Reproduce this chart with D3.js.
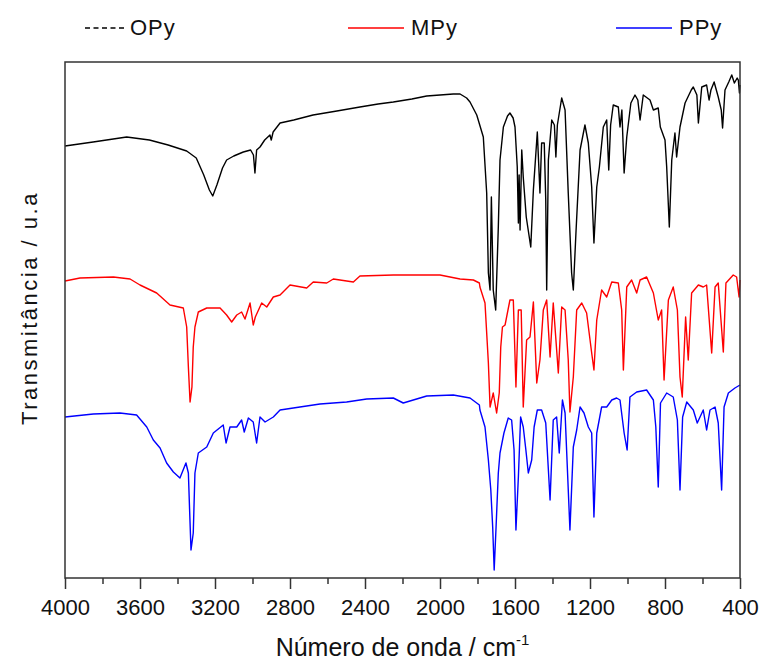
<!DOCTYPE html>
<html>
<head>
<meta charset="utf-8">
<script src="https://cdn.jsdelivr.net/npm/d3@7"></script>
<style>
  body { margin: 0; background: #fff; }
  text { font-family: "Liberation Sans", Arial, sans-serif; fill: #111; }
</style>
</head>
<body>
<div id="chart"></div>
<script>
// tick positions of the wavenumber axis (cm-1)
const majorTicks = [4000, 3600, 3200, 2800, 2400, 2000, 1600, 1200, 800, 400];
const minorTicks = [3800, 3400, 3000, 2600, 2200, 1800, 1400, 1000, 600];

const seriesNames = ['OPy', 'MPy', 'PPy'];
const seriesColors = ['#000000', '#ff0000', '#0000ff'];

// [wavenumber, transmittance (u.a., curves offset)]
const opy = [
  [4000, 432], [3850, 436], [3671, 441], [3550, 438], [3450, 433], [3351, 427], [3300, 420],
  [3260, 403], [3230, 388], [3212, 382], [3190, 393], [3160, 410], [3138, 418], [3100, 422],
  [3049, 426], [3010, 428], [2995, 423], [2987, 405], [2978, 428], [2960, 431], [2935, 438],
  [2907, 443], [2900, 438], [2890, 446], [2853, 455], [2780, 458], [2677, 463], [2550, 467],
  [2427, 471], [2330, 474], [2249, 476], [2150, 479], [2071, 482], [2000, 483], [1929, 484],
  [1893, 484], [1858, 480], [1840, 476], [1804, 463], [1769, 441], [1751, 385], [1742, 305],
  [1733, 288], [1726, 381], [1716, 288], [1703, 268], [1689, 351], [1680, 418], [1662, 451],
  [1640, 462], [1627, 465], [1610, 460], [1600, 451], [1588, 411], [1582, 355], [1578, 403],
  [1573, 348], [1564, 428], [1556, 401], [1540, 361], [1516, 331], [1502, 388], [1481, 446],
  [1467, 385], [1458, 435], [1444, 435], [1436, 378], [1431, 288], [1422, 418], [1404, 458],
  [1390, 453], [1382, 421], [1374, 453], [1351, 480], [1333, 468], [1316, 385], [1298, 305],
  [1289, 288], [1275, 345], [1253, 428], [1227, 453], [1209, 435], [1191, 391], [1179, 335],
  [1164, 391], [1150, 411], [1129, 451], [1111, 458], [1100, 408], [1090, 453], [1076, 473],
  [1049, 471], [1040, 451], [1030, 468], [1018, 405], [1004, 441], [982, 475], [960, 483],
  [945, 478], [933, 458], [916, 483], [880, 478], [862, 468], [836, 470], [825, 451],
  [800, 438], [791, 411], [777, 351], [764, 418], [747, 445], [738, 421], [720, 451],
  [693, 475], [660, 488], [649, 491], [630, 483], [622, 455], [604, 491], [578, 493],
  [565, 478], [555, 488], [538, 496], [516, 481], [500, 468], [493, 450], [480, 488],
  [460, 496], [444, 503], [430, 495], [415, 500], [409, 498], [403, 485], [400, 493]
];

const mpy = [
  [4000, 297], [3920, 300], [3742, 301], [3653, 299], [3600, 293], [3511, 285], [3440, 273],
  [3369, 270], [3351, 251], [3342, 211], [3333, 176], [3323, 191], [3316, 231], [3307, 251],
  [3289, 266], [3244, 270], [3173, 270], [3138, 263], [3111, 256], [3084, 263], [3058, 266],
  [3040, 259], [3013, 275], [2996, 253], [2985, 261], [2951, 275], [2924, 271], [2889, 281],
  [2853, 283], [2800, 293], [2711, 290], [2676, 296], [2604, 295], [2569, 299], [2462, 296],
  [2427, 302], [2249, 303], [2071, 303], [2000, 303], [1893, 299], [1822, 298], [1790, 295],
  [1787, 291], [1760, 275], [1742, 215], [1733, 171], [1716, 185], [1698, 165], [1684, 185],
  [1676, 231], [1667, 251], [1653, 253], [1627, 278], [1609, 278], [1595, 191], [1582, 268],
  [1567, 268], [1556, 171], [1538, 238], [1520, 241], [1502, 276], [1484, 195], [1467, 218],
  [1449, 268], [1431, 278], [1413, 221], [1396, 275], [1369, 205], [1351, 271], [1333, 268],
  [1316, 218], [1307, 166], [1289, 201], [1271, 268], [1244, 275], [1218, 265], [1191, 225],
  [1179, 208], [1164, 258], [1138, 288], [1111, 281], [1084, 296], [1049, 295], [1031, 268],
  [1022, 208], [1004, 291], [978, 298], [951, 285], [933, 298], [898, 301], [862, 285],
  [836, 258], [818, 268], [805, 198], [782, 278], [756, 291], [734, 268], [720, 201],
  [708, 181], [690, 261], [676, 218], [658, 285], [622, 293], [596, 291], [578, 293],
  [551, 225], [533, 291], [516, 295], [489, 226], [475, 295], [436, 303], [418, 301],
  [405, 281], [400, 298]
];

const ppy = [
  [4000, 161], [3849, 164], [3707, 165], [3618, 163], [3564, 151], [3529, 138], [3493, 130],
  [3458, 115], [3422, 106], [3387, 100], [3355, 115], [3342, 105], [3336, 71], [3328, 28],
  [3316, 45], [3307, 105], [3289, 125], [3244, 131], [3209, 145], [3156, 153], [3141, 135],
  [3120, 151], [3084, 151], [3058, 158], [3044, 146], [3022, 160], [2996, 156], [2978, 135],
  [2960, 161], [2933, 156], [2889, 161], [2853, 168], [2747, 171], [2640, 174], [2498, 176],
  [2391, 179], [2249, 180], [2196, 175], [2071, 182], [1929, 183], [1840, 180], [1790, 173],
  [1787, 168], [1760, 151], [1742, 118], [1729, 88], [1719, 51], [1711, 8], [1701, 51],
  [1689, 105], [1680, 125], [1659, 145], [1636, 160], [1618, 158], [1605, 128], [1595, 48],
  [1582, 101], [1570, 161], [1556, 151], [1542, 128], [1529, 105], [1511, 118], [1498, 151],
  [1481, 168], [1458, 168], [1436, 155], [1413, 78], [1396, 158], [1378, 161], [1364, 125],
  [1347, 178], [1333, 165], [1307, 48], [1289, 131], [1271, 148], [1253, 171], [1232, 165],
  [1209, 151], [1191, 145], [1179, 61], [1164, 145], [1138, 171], [1111, 171], [1084, 178],
  [1058, 180], [1040, 178], [1018, 145], [1002, 128], [987, 181], [951, 186], [898, 188],
  [862, 178], [849, 151], [836, 91], [824, 175], [791, 185], [756, 181], [734, 158],
  [720, 88], [706, 161], [684, 176], [649, 168], [628, 155], [596, 168], [578, 148],
  [560, 168], [533, 171], [516, 155], [498, 88], [485, 171], [462, 185], [427, 190],
  [400, 193]
];

const seriesData = [opy, mpy, ppy];

const width = 759;
const height = 660;
const margin = { top: 62, right: 19, bottom: 82, left: 65 };
const innerW = width - margin.left - margin.right;
const innerH = height - margin.top - margin.bottom;

const svg = d3.select('#chart')
  .append('svg')
  .attr('width', width)
  .attr('height', height);

const g = svg.append('g')
  .attr('transform', `translate(${margin.left},${margin.top})`);

const x = d3.scaleLinear().domain([4000, 400]).range([0, innerW]);
const y = d3.scaleLinear().domain([0, innerH]).range([innerH, 0]);

// spectra
const line = d3.line()
  .x((d) => x(d[0]))
  .y((d) => y(d[1]));

seriesData.forEach((data, i) => {
  g.append('path')
    .datum(data)
    .attr('fill', 'none')
    .attr('stroke', seriesColors[i])
    .attr('stroke-width', 1.4)
    .attr('stroke-linejoin', 'round')
    .attr('d', line);
});

// frame
g.append('rect')
  .attr('width', innerW)
  .attr('height', innerH)
  .attr('fill', 'none')
  .attr('stroke', '#333')
  .attr('stroke-width', 1.5);

// bottom axis, major + minor ticks
const xAxis = g.append('g')
  .attr('transform', `translate(0,${innerH})`)
  .call(d3.axisBottom(x).tickValues(majorTicks).tickSize(11).tickPadding(10).tickFormat(d3.format('d')));
xAxis.select('.domain').remove();
xAxis.selectAll('line').attr('stroke', '#333').attr('stroke-width', 1.5);
xAxis.selectAll('text')
  .style('font-size', '22px')
  .attr('fill', '#111');

const xMinor = g.append('g')
  .attr('transform', `translate(0,${innerH})`)
  .call(d3.axisBottom(x).tickValues(minorTicks).tickSize(6).tickFormat(''));
xMinor.select('.domain').remove();
xMinor.selectAll('line').attr('stroke', '#333').attr('stroke-width', 1.5);

// axis titles
const xTitle = svg.append('text')
  .attr('x', margin.left + innerW / 2)
  .attr('y', 656)
  .attr('text-anchor', 'middle')
  .style('font-size', '25px');
xTitle.append('tspan').text('Número de onda / cm');
xTitle.append('tspan').attr('dy', -11).style('font-size', '15px').text('-1');

svg.append('text')
  .attr('transform', 'translate(37,308) rotate(-90)')
  .attr('text-anchor', 'middle')
  .style('font-size', '22px')
  .style('letter-spacing', '2.5px')
  .text('Transmitância / u.a');

// legend
const legendX = [85, 348, 616];
const legend = svg.append('g');
seriesNames.forEach((name, i) => {
  legend.append('line')
    .attr('x1', legendX[i])
    .attr('x2', legendX[i] + (i === 0 ? 42 : 56))
    .attr('y1', 28)
    .attr('y2', 28)
    .attr('stroke', seriesColors[i])
    .attr('stroke-width', 1.5)
    .attr('stroke-dasharray', i === 0 ? '5,3.5' : null);
  legend.append('text')
    .attr('x', legendX[i] + (i === 0 ? 45 : 63))
    .attr('y', 35)
    .style('font-size', '22px')
    .style('letter-spacing', '1px')
    .text(name);
});
</script>
</body>
</html>
